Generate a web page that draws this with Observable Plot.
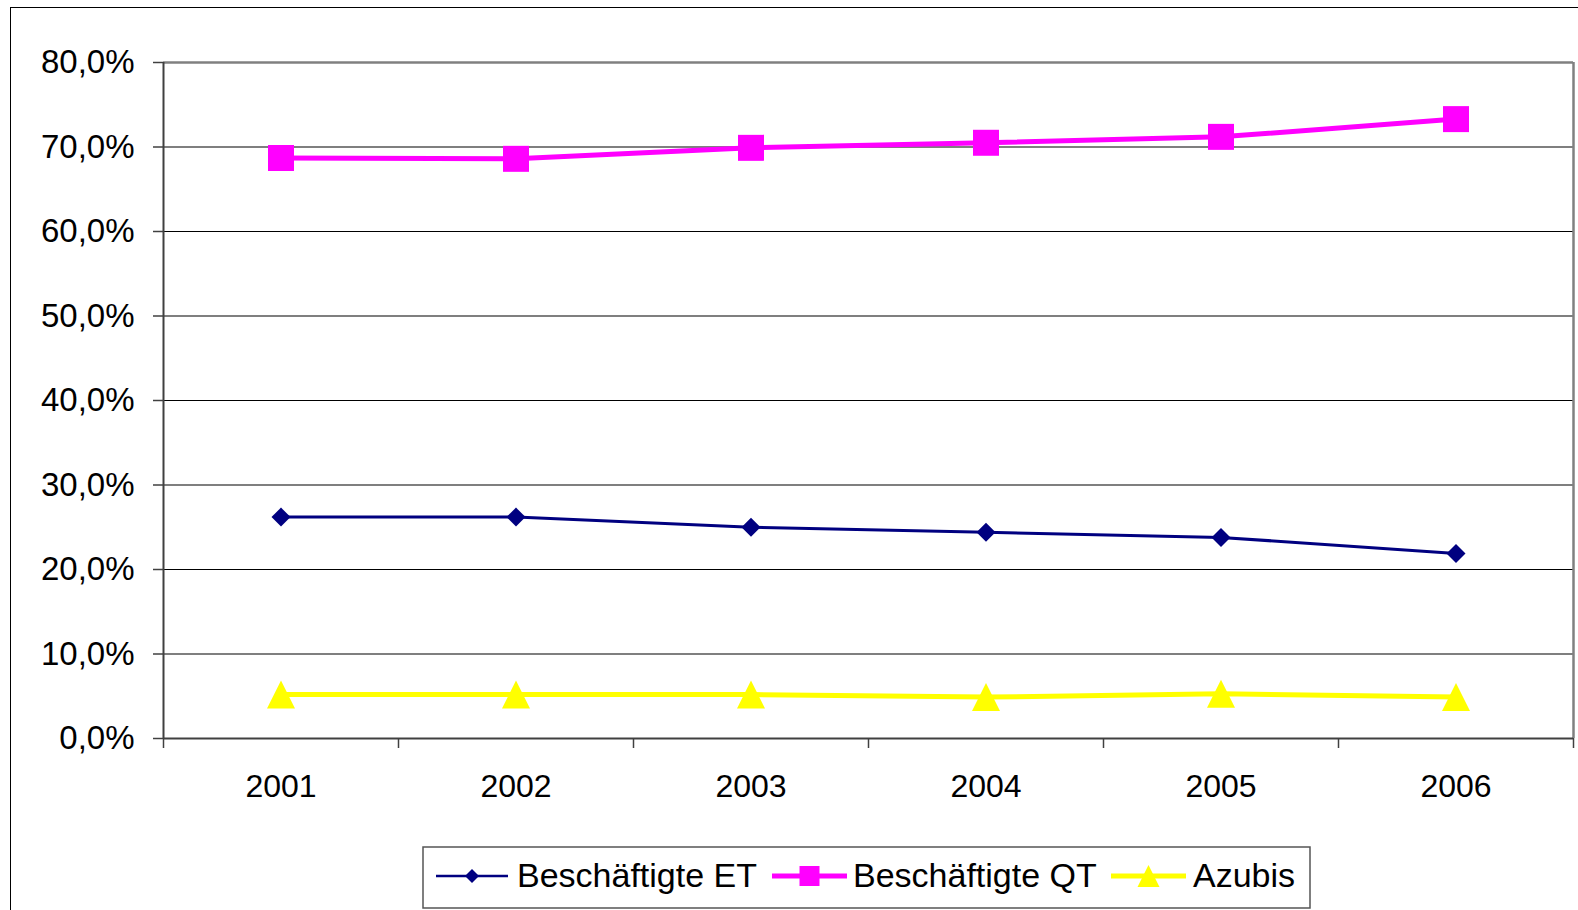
<!DOCTYPE html>
<html>
<head>
<meta charset="utf-8">
<script src="https://cdn.jsdelivr.net/npm/d3@7"></script>
<script src="https://cdn.jsdelivr.net/npm/@observablehq/plot@0.6"></script>
<style>
  html, body { margin: 0; padding: 0; background: #fff; overflow: hidden; width: 1578px; height: 910px; }
  #frame { position: absolute; left: 10px; top: 7px; width: 1700px; height: 1100px; border: 1.5px solid #000; box-sizing: border-box; }
  #chart { position: absolute; left: 0; top: 0; }
  #legend { position: absolute; left: 0; top: 0; }
</style>
</head>
<body>
<div id="frame"></div>
<div id="chart"></div>
<svg id="legend" width="1578" height="910"></svg>
<script>
const years = ["2001", "2002", "2003", "2004", "2005", "2006"];
const seriesNames = ["Beschäftigte ET", "Beschäftigte QT", "Azubis"];
const valuesET = [26.2, 26.2, 25.0, 24.4, 23.8, 21.9];
const valuesQT = [68.7, 68.6, 69.9, 70.5, 71.2, 73.3];
const valuesAzubis = [5.2, 5.2, 5.2, 4.9, 5.3, 4.9];
const yTicks = [0, 10, 20, 30, 40, 50, 60, 70, 80];
const colors = ["#000080", "#FF00FF", "#FFFF00"];

const font = "'Liberation Sans', Arial, sans-serif";

// custom symbols (centered on bounding box)
const diamond = { draw(ctx, size) { const a = Math.sqrt(size / Math.PI); ctx.moveTo(0, -a); ctx.lineTo(a, 0); ctx.lineTo(0, a); ctx.lineTo(-a, 0); ctx.closePath(); } };
const square = { draw(ctx, size) { const a = Math.sqrt(size / Math.PI); ctx.moveTo(-a, -a); ctx.lineTo(a, -a); ctx.lineTo(a, a); ctx.lineTo(-a, a); ctx.closePath(); } };
const triangle = { draw(ctx, size) { const a = Math.sqrt(size / Math.PI); ctx.moveTo(0, -a); ctx.lineTo(a, a); ctx.lineTo(-a, a); ctx.closePath(); } };
const symbols = [diamond, square, triangle];
const radii = [9.5, 13, 14];
const widths = [3, 5, 5];

const allSeries = [valuesET, valuesQT, valuesAzubis];
const data = [];
allSeries.forEach((vals, s) => vals.forEach((v, i) => data.push({ series: seriesNames[s], s, i, x: i + 0.5, year: years[i], v })));

const boundaries = d3.range(0, years.length + 1);
const centers = years.map((y, i) => i + 0.5);

const marks = [];
// gridlines
marks.push(Plot.ruleY(yTicks.filter(t => t > 0 && t < 80), { stroke: "#000", strokeWidth: 1.2 }));
// plot area top & right borders (gray)
marks.push(Plot.ruleY([80], { stroke: "#808080", strokeWidth: 2.5 }));
marks.push(Plot.ruleX([years.length], { stroke: "#808080", strokeWidth: 2.5 }));
// axes
marks.push(Plot.ruleX([0], { stroke: "#404040", strokeWidth: 2 }));
marks.push(Plot.ruleY([0], { stroke: "#404040", strokeWidth: 2 }));
marks.push(Plot.axisY({ ticks: yTicks, tickSize: 10, tickPadding: 19, stroke: "#404040", strokeWidth: 1.5, label: null,
  tickFormat: d => d.toFixed(1).replace(".", ",") + "%", fontSize: 33, fill: "#000" }));
marks.push(Plot.axisX({ ticks: boundaries, tickSize: 10, tickFormat: () => "", stroke: "#404040", strokeWidth: 1.5, label: null }));
marks.push(Plot.axisX({ ticks: centers, tickSize: 0, tickPadding: 36, tickFormat: d => years[Math.floor(d)], fontSize: 32, fill: "#000", label: null }));
// series
seriesNames.forEach((name, s) => {
  const d = data.filter(r => r.s === s);
  marks.push(Plot.line(d, { x: "x", y: "v", stroke: colors[s], strokeWidth: widths[s] }));
});
seriesNames.forEach((name, s) => {
  const d = data.filter(r => r.s === s);
  marks.push(Plot.dot(d, { x: "x", y: "v", symbol: symbols[s], r: radii[s], fill: colors[s], stroke: "none" }));
});

const chart = Plot.plot({
  width: 1578,
  height: 830,
  marginLeft: 163,
  marginTop: 62,
  marginRight: 5,
  marginBottom: 92,
  style: { fontFamily: font, fontSize: "32px", color: "#000", background: "transparent", overflow: "visible" },
  x: { type: "linear", domain: [0, years.length], axis: null },
  y: { type: "linear", domain: [0, 80], axis: null },
  marks
});
document.getElementById("chart").appendChild(chart);

// Legend
const lg = d3.select("#legend");
lg.append("rect").attr("x", 423).attr("y", 847).attr("width", 887).attr("height", 61)
  .attr("fill", "#fff").attr("stroke", "#555").attr("stroke-width", 1.5);
const items = [
  { x0: 436, x1: 508, tx: 517 },
  { x0: 772, x1: 847, tx: 853 },
  { x0: 1111, x1: 1186, tx: 1193 }
];
const ly = 876;
items.forEach((it, s) => {
  lg.append("line").attr("x1", it.x0).attr("x2", it.x1).attr("y1", ly).attr("y2", ly)
    .attr("stroke", colors[s]).attr("stroke-width", widths[s] === 3 ? 2.5 : 5);
  const path = d3.path();
  const sz = [7, 10, 11][s];
  symbols[s].draw(path, sz * sz * Math.PI);
  lg.append("path").attr("d", path.toString()).attr("transform", `translate(${(it.x0 + it.x1) / 2},${ly})`).attr("fill", colors[s]);
  lg.append("text").attr("x", it.tx).attr("y", ly + 11).attr("font-family", font).attr("font-size", 34)
    .attr("fill", "#000").text(seriesNames[s]);
});
</script>
</body>
</html>
